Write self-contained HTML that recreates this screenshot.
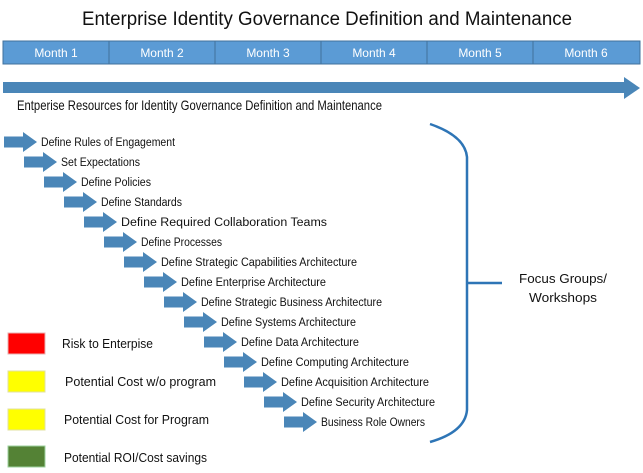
<!DOCTYPE html>
<html><head><meta charset="utf-8"><style>
html,body{margin:0;padding:0;background:#fff;width:643px;height:473px;overflow:hidden}
svg{display:block;font-family:"Liberation Sans",sans-serif}
</style></head><body>
<svg width="643" height="473" viewBox="0 0 643 473" xmlns="http://www.w3.org/2000/svg">
<text x="327" y="25" font-size="19" text-anchor="middle" textLength="490" lengthAdjust="spacingAndGlyphs" fill="#111">Enterprise Identity Governance Definition and Maintenance</text>
<rect x="3" y="41" width="637" height="23" fill="#5b9bd5" stroke="#41719c" stroke-width="1"/>
<g stroke="#41719c" stroke-width="1">
<line x1="109" y1="41" x2="109" y2="64"/><line x1="215" y1="41" x2="215" y2="64"/><line x1="321" y1="41" x2="321" y2="64"/><line x1="427" y1="41" x2="427" y2="64"/><line x1="533" y1="41" x2="533" y2="64"/>
</g>
<g fill="#fff" font-size="12" text-anchor="middle">
<text x="56" y="57">Month 1</text><text x="162" y="57">Month 2</text><text x="268" y="57">Month 3</text><text x="374" y="57">Month 4</text><text x="480" y="57">Month 5</text><text x="586" y="57">Month 6</text>
</g>
<polygon points="3,82 624,82 624,77 640,88 624,99 624,93 3,93" fill="#4a86b8"/>
<text x="17" y="110" font-size="14" textLength="365" lengthAdjust="spacingAndGlyphs" fill="#111">Entperise Resources for Identity Governance Definition and Maintenance</text>
<defs><polygon id="a" points="0,-5.5 19,-5.5 19,-10 33,0 19,10 19,5.5 0,5.5" fill="#4a86b8"/></defs>
<g font-size="11.5" fill="#111">
<use href="#a" x="4" y="142"/><text x="41" y="146" textLength="134" lengthAdjust="spacingAndGlyphs">Define Rules of Engagement</text>
<use href="#a" x="24" y="162"/><text x="61" y="166" textLength="79" lengthAdjust="spacingAndGlyphs">Set Expectations</text>
<use href="#a" x="44" y="182"/><text x="81" y="186" textLength="70" lengthAdjust="spacingAndGlyphs">Define Policies</text>
<use href="#a" x="64" y="202"/><text x="101" y="206" textLength="81" lengthAdjust="spacingAndGlyphs">Define Standards</text>
<use href="#a" x="84" y="222"/><text x="121" y="226" textLength="206" lengthAdjust="spacingAndGlyphs">Define Required Collaboration Teams</text>
<use href="#a" x="104" y="242"/><text x="141" y="246" textLength="81" lengthAdjust="spacingAndGlyphs">Define Processes</text>
<use href="#a" x="124" y="262"/><text x="161" y="266" textLength="196" lengthAdjust="spacingAndGlyphs">Define Strategic Capabilities Architecture</text>
<use href="#a" x="144" y="282"/><text x="181" y="286" textLength="145" lengthAdjust="spacingAndGlyphs">Define Enterprise Architecture</text>
<use href="#a" x="164" y="302"/><text x="201" y="306" textLength="181" lengthAdjust="spacingAndGlyphs">Define Strategic Business Architecture</text>
<use href="#a" x="184" y="322"/><text x="221" y="326" textLength="135" lengthAdjust="spacingAndGlyphs">Define Systems Architecture</text>
<use href="#a" x="204" y="342"/><text x="241" y="346" textLength="118" lengthAdjust="spacingAndGlyphs">Define Data Architecture</text>
<use href="#a" x="224" y="362"/><text x="261" y="366" textLength="148" lengthAdjust="spacingAndGlyphs">Define Computing Architecture</text>
<use href="#a" x="244" y="382"/><text x="281" y="386" textLength="148" lengthAdjust="spacingAndGlyphs">Define Acquisition Architecture</text>
<use href="#a" x="264" y="402"/><text x="301" y="406" textLength="134" lengthAdjust="spacingAndGlyphs">Define Security Architecture</text>
<use href="#a" x="284" y="422"/><text x="321" y="426" textLength="104" lengthAdjust="spacingAndGlyphs">Business Role Owners</text>
</g>
<path d="M430,124 Q465,136 467,157 L467,410 Q465,432 430,442" fill="none" stroke="#2e75b6" stroke-width="2.5"/>
<line x1="467" y1="283" x2="502" y2="283" stroke="#2e75b6" stroke-width="2.5"/>
<g font-size="13" fill="#111" text-anchor="middle">
<text x="563" y="283" textLength="88" lengthAdjust="spacingAndGlyphs">Focus Groups/</text>
<text x="563" y="302" textLength="68" lengthAdjust="spacingAndGlyphs">Workshops</text>
</g>
<rect x="8" y="333" width="37" height="21" fill="#ff0000" stroke="#e8b0b0"/>
<rect x="8" y="371" width="37" height="21" fill="#ffff00" stroke="#e0e0a0"/>
<rect x="8" y="409" width="37" height="21" fill="#ffff00" stroke="#e0e0a0"/>
<rect x="8" y="446" width="37" height="21" fill="#548235" stroke="#9ed29e"/>
<g font-size="13" fill="#111">
<text x="62" y="348" textLength="91" lengthAdjust="spacingAndGlyphs">Risk to Enterpise</text>
<text x="65" y="386" textLength="151" lengthAdjust="spacingAndGlyphs">Potential Cost w/o program</text>
<text x="64" y="424" textLength="145" lengthAdjust="spacingAndGlyphs">Potential Cost for Program</text>
<text x="64" y="462" textLength="143" lengthAdjust="spacingAndGlyphs">Potential ROI/Cost savings</text>
</g>
</svg>
</body></html>
